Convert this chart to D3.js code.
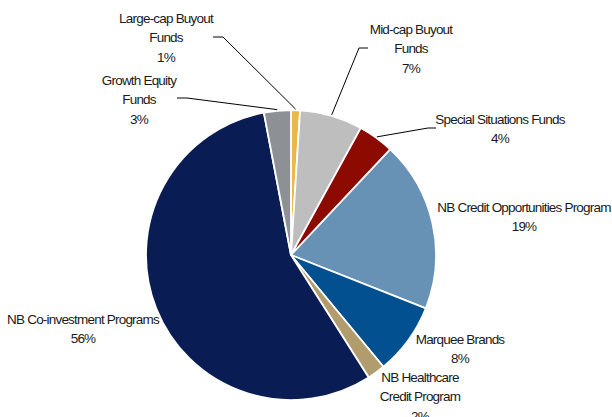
<!DOCTYPE html>
<html>
<head>
<meta charset="utf-8">
<script src="https://d3js.org/d3.v7.min.js"></script>
<style>
  body { margin: 0; background: #fff; }
  text { font-family: "Liberation Sans", Arial, sans-serif; font-size: 13.5px; fill: #1a1a1a; letter-spacing: -0.8px; }
</style>
</head>
<body>
<script>
// data
var categories = ["Large-cap Buyout Funds", "Mid-cap Buyout Funds", "Special Situations Funds",
                  "NB Credit Opportunities Program", "Marquee Brands", "NB Healthcare Credit Program",
                  "NB Co-investment Programs", "Growth Equity Funds"];
var values = [1, 7, 4, 19, 8, 2, 56, 3];
var colors = ["#E9B949", "#BEBEBE", "#8C0A00", "#6791B5", "#02508F", "#B19C6D", "#0A1C54", "#8D9196"];

// label lines (how each name wraps) and where the label block sits
var labelLines = [["Large-cap Buyout", "Funds"], ["Mid-cap Buyout", "Funds"], ["Special Situations Funds"],
                  ["NB Credit Opportunities Program"], ["Marquee Brands"], ["NB Healthcare", "Credit Program"],
                  ["NB Co-investment Programs"], ["Growth Equity", "Funds"]];
var labelPos = [[166, 18], [411, 29], [500, 119], [524, 207], [460, 339], [420, 377], [83, 319], [139, 80]];
// elbow of the leader line: [start x, start y, bend x] (null = no leader)
var leaders = [[213, 37, 223], [368, 48, 359], [436, 128, 428], null, null, null, null, [177, 98, 187]];

const W = 612, H = 417;
const cx = 291, cy = 255, radius = 145;
const lineH = 19.5;

const svg = d3.select("body").append("svg")
  .attr("width", W).attr("height", H);

const g = svg.append("g").attr("transform", "translate(" + cx + "," + cy + ")");

var pie = d3.pie().sort(null).value(function(d) { return d; });
var arc = d3.arc().innerRadius(0).outerRadius(radius);
var arcs = pie(values);

g.selectAll("path.slice")
  .data(arcs)
  .enter().append("path")
  .attr("class", "slice")
  .attr("d", arc)
  .attr("fill", function(d, i) { return colors[i]; })
  .attr("stroke", "#fff")
  .attr("stroke-width", 1.8)
  .attr("stroke-linejoin", "round");

// leader lines
var edge = d3.arc().innerRadius(radius + 1).outerRadius(radius + 1);
arcs.forEach(function(d, i) {
  if (!leaders[i]) return;
  var p = edge.centroid(d);
  var L = leaders[i];
  svg.append("polyline")
    .attr("points", [[L[0], L[1]], [L[2], L[1]], [p[0] + cx, p[1] + cy]].map(function(q) { return q.join(","); }).join(" "))
    .attr("fill", "none")
    .attr("stroke", "#000")
    .attr("stroke-width", 1);
});

// labels
arcs.forEach(function(d, i) {
  var lines = labelLines[i].concat([d.data + "%"]);
  var t = svg.append("text")
    .attr("text-anchor", "middle")
    .attr("x", labelPos[i][0])
    .attr("y", labelPos[i][1]);
  lines.forEach(function(s, k) {
    t.append("tspan")
      .attr("x", labelPos[i][0])
      .attr("y", labelPos[i][1] + k * lineH)
      .attr("dy", "0.35em")
      .text(s);
  });
});
</script>
</body>
</html>
